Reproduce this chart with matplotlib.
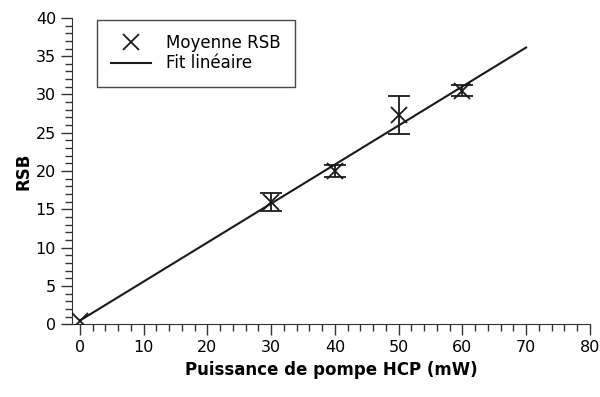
import matplotlib.pyplot as plt
import numpy as np
from matplotlib.ticker import MultipleLocator

# Données
puissance = [0, 30, 40, 50, 60]
rsb = [0.5, 16.0, 20.0, 27.3, 30.5]
erreur = [0.0, 1.2, 0.8, 2.5, 0.7]
fit_x = [0, 70]
pente = 0.509
ordonnee = 0.5

fig = plt.figure(figsize=(6, 3.97), dpi=100)
ax = fig.add_axes([0.12, 0.183, 0.863, 0.772])

# barres d'erreur (sans le point à 0)
ex = [p for p, e in zip(puissance, erreur) if e > 0]
ey = [r for r, e in zip(rsb, erreur) if e > 0]
ee = [e for e in erreur if e > 0]
ax.errorbar(ex, ey, yerr=ee, fmt='none', ecolor='#1a1a1a', capsize=8,
            elinewidth=1.3, capthick=1.3, zorder=3)
ax.plot(puissance, rsb, 'x', color='#1a1a1a', markersize=12, markeredgewidth=1.3,
        label='Moyenne RSB', zorder=4)
fx = np.array(fit_x)
ax.plot(fx, pente * fx + ordonnee, '-', color='#1a1a1a', lw=1.5, label='Fit linéaire')

ax.set_xlim(-1.25, 80)
ax.set_ylim(0, 40)
ax.xaxis.set_major_locator(MultipleLocator(10))
ax.xaxis.set_minor_locator(MultipleLocator(2))
ax.yaxis.set_major_locator(MultipleLocator(5))
ax.yaxis.set_minor_locator(MultipleLocator(1))
ax.tick_params(which='major', length=8, width=1, labelsize=11.5, color='#333333')
ax.tick_params(which='minor', length=5, width=1, color='#333333')
ax.spines['top'].set_visible(False)
ax.spines['right'].set_visible(False)
ax.spines['left'].set_color('#333333')
ax.spines['bottom'].set_color('#333333')

ax.set_xlabel('Puissance de pompe HCP (mW)', fontsize=12, fontweight='bold', labelpad=4)
ax.set_ylabel('RSB', fontsize=12, fontweight='bold', labelpad=2)

leg = ax.legend(loc='upper left', bbox_to_anchor=(0.048, 0.994), borderaxespad=0,
                fontsize=12, frameon=True, fancybox=False, edgecolor='#1a1a1a',
                handlelength=2.4, handletextpad=0.9, borderpad=0.85, labelspacing=0.15)
leg.get_frame().set_linewidth(1.0)

fig.savefig('out.png', dpi=100)
